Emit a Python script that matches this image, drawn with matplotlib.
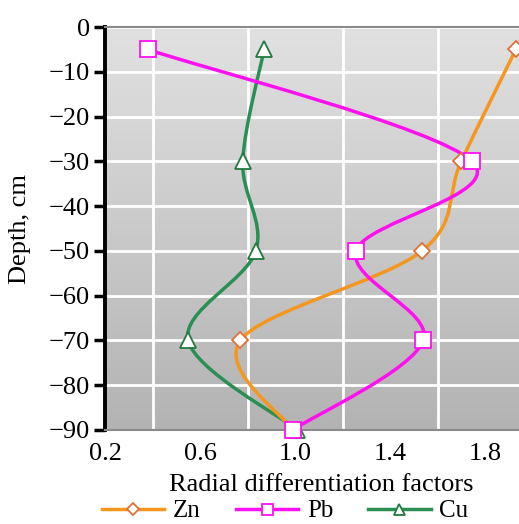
"""Radial differentiation factors vs depth"""

import numpy as np
import matplotlib
matplotlib.use("Agg")
import matplotlib.pyplot as plt
from matplotlib.path import Path
from matplotlib.patches import PathPatch
from matplotlib.lines import Line2D

plt.rcParams["font.family"] = ["Liberation Serif", "DejaVu Serif"]

# data
depth = [-5, -30, -50, -70, -90]
zn = [1.93, 1.70, 1.535, 0.77, 0.99]
pb = [0.38, 1.745, 1.257, 1.54, 0.99]
cu = [0.87, 0.78, 0.835, 0.55, 1.01]

x_ticks = [0.2, 0.6, 1.0, 1.4, 1.8]
y_ticks = [0, -10, -20, -30, -40, -50, -60, -70, -80, -90]


def smooth_path(xs, ys):
    # Excel-like smoothed line: cubic bezier through the points
    p = np.column_stack([xs, ys]).astype(float)
    n = len(p)
    verts = [p[0]]
    codes = [Path.MOVETO]
    for i in range(n - 1):
        prev = p[i - 1] if i > 0 else p[i]
        nxt = p[i + 2] if i + 2 < n else p[i + 1]
        c1 = p[i] + (p[i + 1] - prev) / 6
        c2 = p[i + 1] - (nxt - p[i]) / 6
        verts += [c1, c2, p[i + 1]]
        codes += [Path.CURVE4] * 3
    return Path(verts, codes)


fs = 19

fig = plt.figure(figsize=(5.19, 5.24), dpi=100)
ax = fig.add_axes([105 / 519, 94 / 524, 427.5 / 519, 403 / 524])

# grey gradient background, light at the top
grad = np.linspace(0, 1, 256).reshape(-1, 1)
cmap = matplotlib.colors.LinearSegmentedColormap.from_list("g", ["#e1e1e1", "#b3b3b3"])
ax.imshow(grad, cmap=cmap, extent=[0.2, 2.0, -90, 0], aspect="auto", zorder=0, origin="upper")
ax.set_xlim(0.2, 2.0)
ax.set_ylim(-90, 0)

# white grid
ax.set_xticks(np.arange(0.2, 2.01, 0.2), minor=True)
ax.grid(True, which="minor", axis="x", color="white", lw=2)
ax.grid(True, which="major", axis="y", color="white", lw=2)
ax.set_axisbelow(True)

series = [
    (cu, "Cu", "#2a8f52", "#1f7a3c", "^", 11),
    (zn, "Zn", "#f5961e", "#e0703a", "D", 8.5),
    (pb, "Pb", "#ff10f0", "#ff10f0", "s", 11),
]
handles = []
for vals, name, col, edge, mk, ms in series:
    patch = PathPatch(smooth_path(vals, depth), facecolor="none", edgecolor=col, lw=2.5, zorder=3)
    ax.add_patch(patch)
    ax.plot(vals, depth, ls="none", marker=mk, ms=ms, mfc="white", mec=edge, mew=1.3, zorder=4,
            clip_on=False)
    handles.append(Line2D([], [], color=col, lw=2.5, marker=mk, ms=ms * 0.72, mfc="white",
                          mec=edge, mew=1.3, label=name))
handles = [handles[1], handles[2], handles[0]]

ax.set_xticks(x_ticks)
ax.set_xticklabels(["0.2", "0.6", "1.0", "1.4", "1.8"])
ax.set_yticks(y_ticks)
ax.tick_params(axis="x", length=0, labelsize=fs, pad=9)
ax.tick_params(axis="x", which="minor", length=0)
ax.tick_params(axis="y", length=8, width=2.5, labelsize=fs, direction="out", pad=3)

ax.spines["left"].set_linewidth(2.8)
ax.spines["left"].set_color("black")
ax.spines["bottom"].set_color("#8a8a8a")
ax.spines["bottom"].set_linewidth(1.5)
ax.spines["top"].set_color("#8a8a8a")
ax.spines["top"].set_linewidth(1.5)
ax.spines["right"].set_visible(False)

ax.set_xlabel("Radial differentiation factors", fontsize=fs)
ax.set_ylabel("Depth, cm", fontsize=fs)
ax.xaxis.set_label_coords(0.505, -0.108)
ax.yaxis.set_label_coords(-0.172, 0.5)

fig.legend(handles=handles, loc="center", bbox_to_anchor=(285 / 519, 1 - 511 / 524), ncol=3,
           frameon=False, fontsize=18, handlelength=2.5, columnspacing=1.4, handletextpad=0.35,
           borderpad=0)

fig.savefig("out.png", dpi=100)
